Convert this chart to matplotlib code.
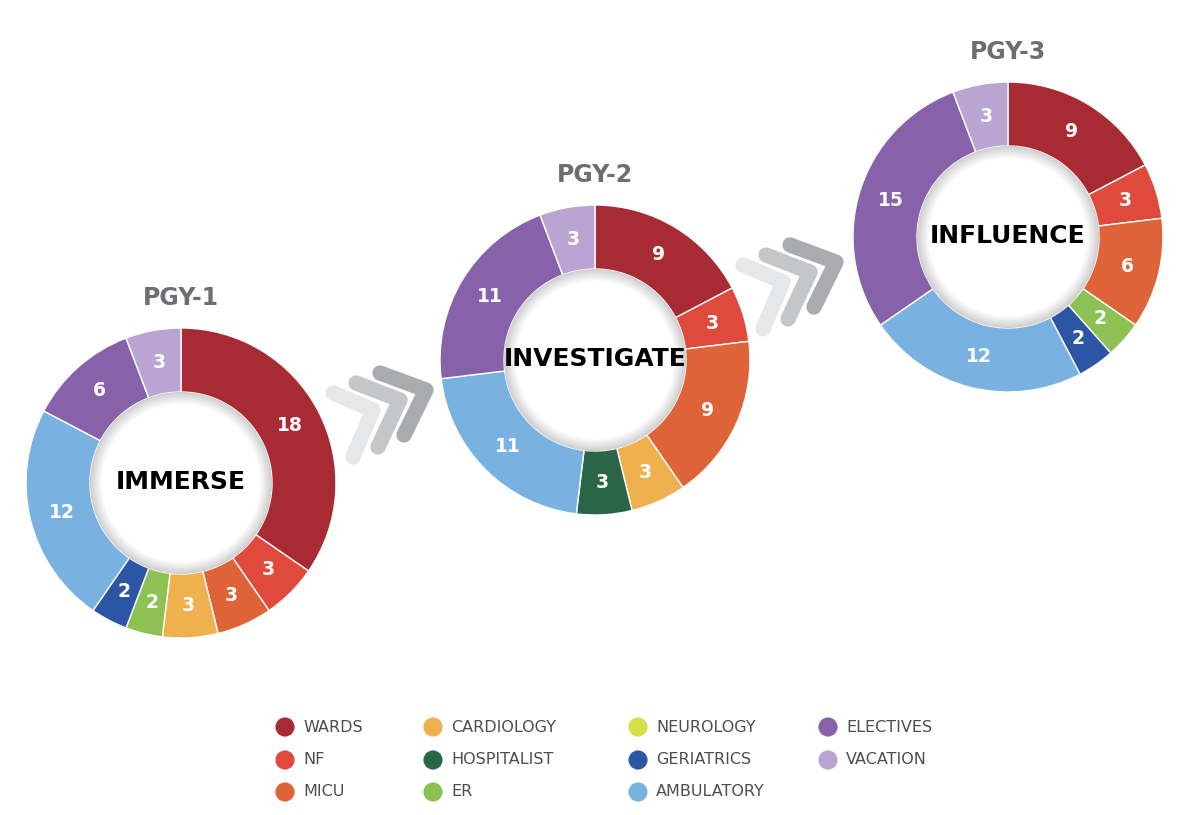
"""Residency rotation donuts (PGY-1 .. PGY-3) with chevrons and a legend."""
import numpy as np
import matplotlib
matplotlib.use("Agg")
import matplotlib.pyplot as plt
from matplotlib.patches import Wedge, Circle

W, H = 1200, 815

CATEGORIES = ["WARDS", "NF", "MICU", "CARDIOLOGY", "HOSPITALIST", "ER",
              "NEUROLOGY", "GERIATRICS", "AMBULATORY", "ELECTIVES", "VACATION"]
COLORS = ["#a82a33", "#e04a3c", "#df6338", "#eeb14e", "#2a6547", "#8dc153",
          "#d6df4a", "#2c56a4", "#79b2e1", "#8761aa", "#b9a4d2"]

YEARS = ["PGY-1", "PGY-2", "PGY-3"]
THEMES = ["IMMERSE", "INVESTIGATE", "INFLUENCE"]
PGY1_CATS = ["WARDS", "NF", "MICU", "CARDIOLOGY", "ER", "GERIATRICS",
             "AMBULATORY", "ELECTIVES", "VACATION"]
PGY1_WEEKS = [18, 3, 3, 3, 2, 2, 12, 6, 3]
PGY2_CATS = ["WARDS", "NF", "MICU", "CARDIOLOGY", "HOSPITALIST",
             "AMBULATORY", "ELECTIVES", "VACATION"]
PGY2_WEEKS = [9, 3, 9, 3, 3, 11, 11, 3]
PGY3_CATS = ["WARDS", "NF", "MICU", "ER", "GERIATRICS",
             "AMBULATORY", "ELECTIVES", "VACATION"]
PGY3_WEEKS = [9, 3, 6, 2, 2, 12, 15, 3]

# layout (pixel units, y measured from top)
CENTERS = [(181, 483), (595, 360), (1008, 237)]
R_OUT, R_IN = 155, 91
col = dict(zip(CATEGORIES, COLORS))

fig = plt.figure(figsize=(W / 100, H / 100), dpi=100)
ax = fig.add_axes([0, 0, 1, 1])


def chevrons(ax, dx, dy):
    shades = ["#e6e7e8", "#c4c6c8", "#a9abae"]
    base = [((333, 393), (373, 410), (353, 457)),
            ((356, 383), (400, 400), (378, 447)),
            ((380, 373), (426, 390), (404, 435))]
    for c, pts in zip(shades, base):
        xs = [p[0] + dx for p in pts]
        ys = [H - (p[1] + dy) for p in pts]
        ax.plot(xs, ys, color=c, lw=11, solid_capstyle="round",
                solid_joinstyle="round", zorder=1)


chevrons(ax, 0, 0)
chevrons(ax, 410, -128)

for (cx, cy), year, theme, cats, vals in zip(
        CENTERS, YEARS, THEMES, [PGY1_CATS, PGY2_CATS, PGY3_CATS],
        [PGY1_WEEKS, PGY2_WEEKS, PGY3_WEEKS]):
    c = (cx, H - cy)
    wedges, _ = ax.pie(vals, colors=[col[k] for k in cats], startangle=90,
                       counterclock=False, center=c, radius=R_OUT,
                       wedgeprops=dict(width=R_OUT - R_IN, edgecolor="white",
                                       linewidth=1.0))
    for w, v in zip(wedges, vals):
        ang = np.deg2rad((w.theta1 + w.theta2) / 2)
        rm = (R_OUT + R_IN) / 2
        ax.text(c[0] + rm * np.cos(ang), c[1] + rm * np.sin(ang), str(v),
                ha="center", va="center", color="white", fontsize=13.5,
                fontweight="bold", zorder=5)
    # inner shadow of the hole
    ax.add_patch(Circle(c, R_IN, facecolor="white", edgecolor="none", zorder=3))
    for k in range(12):
        ax.add_patch(Wedge(c, R_IN, 0, 360, width=1 + k, facecolor="black",
                           edgecolor="none", alpha=0.016, zorder=3.5))
    ax.text(c[0], c[1] + 1, theme, ha="center", va="center", fontsize=18,
            fontweight="heavy", color="black", zorder=6)
    ax.text(cx, H - (cy - 185), year, ha="center", va="center", fontsize=17,
            fontweight="bold", color="#6d6e71")

# legend
LEG_X = [285, 433, 638, 828]
LEG_Y = [727, 760, 792]
LEG_ORDER = [["WARDS", "NF", "MICU"], ["CARDIOLOGY", "HOSPITALIST", "ER"],
             ["NEUROLOGY", "GERIATRICS", "AMBULATORY"], ["ELECTIVES", "VACATION"]]
for x, names in zip(LEG_X, LEG_ORDER):
    for y, name in zip(LEG_Y, names):
        ax.scatter([x], [H - y], s=190, color=col[name], edgecolors="none")
        ax.text(x + 18, H - y, name, ha="left", va="center", fontsize=11.5,
                color="#4d4d4f")

ax.set_xlim(0, W)
ax.set_ylim(0, H)
ax.set_aspect("equal")
ax.axis("off")
fig.savefig("out.png", dpi=100, facecolor="white")
